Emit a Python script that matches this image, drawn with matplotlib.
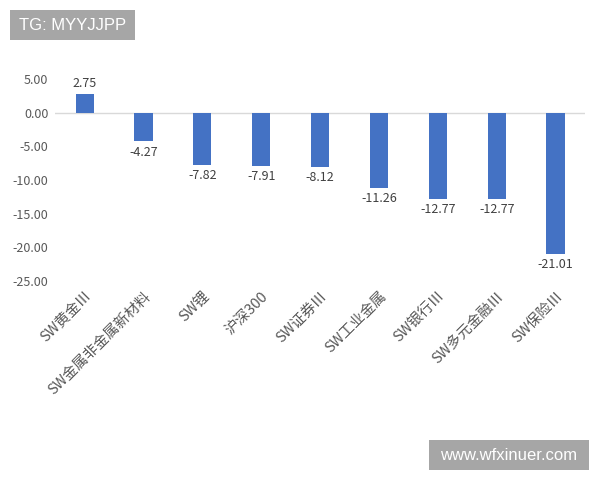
import matplotlib
matplotlib.use("Agg")
import matplotlib.pyplot as plt
from matplotlib.patches import Rectangle

plt.rcParams['font.family'] = ['Noto Sans CJK SC', 'DejaVu Sans']

categories = ["SW黄金Ⅲ", "SW金属非金属新材料", "SW锂", "沪深300", "SW证券Ⅲ",
              "SW工业金属", "SW银行Ⅲ", "SW多元金融Ⅲ", "SW保险Ⅲ"]
values = [2.75, -4.27, -7.82, -7.91, -8.12, -11.26, -12.77, -12.77, -21.01]
yticks = [5, 0, -5, -10, -15, -20, -25]

W, H = 600, 480
fig = plt.figure(figsize=(6, 4.8), dpi=100)
ax = fig.add_axes([0.092, 0.415, 0.883, 0.42])
x = range(len(categories))
ax.bar(x, values, width=0.31, color="#4472C4", zorder=3)
ax.set_xlim(-0.5, len(categories) - 0.5)
ax.set_ylim(-25, 5)
ax.set_yticks(yticks)
ax.set_yticklabels([f"{v:.2f}" for v in yticks], fontsize=9, color="#595959")
ax.set_xticks(list(x))
ax.set_xticklabels(categories, rotation=45, ha="right", rotation_mode="anchor",
                   fontsize=10.5, color="#595959")
for s in ax.spines.values():
    s.set_visible(False)
ax.tick_params(length=0)
ax.tick_params(axis='y', pad=5)
ax.tick_params(axis='x', pad=6)
ax.axhline(0, color="#d9d9d9", lw=1, zorder=2)
for i, v in enumerate(values):
    if v >= 0:
        ax.text(i, v + 0.6, f"{v:.2f}", ha="center", va="bottom", fontsize=9, color="#404040")
    else:
        ax.text(i, v - 0.6, f"{v:.2f}", ha="center", va="top", fontsize=9, color="#404040")

def badge(x0, y0, x1, y1, text):
    fig.add_artist(Rectangle((x0 / W, 1 - y1 / H), (x1 - x0) / W, (y1 - y0) / H,
                             transform=fig.transFigure, fc="#a6a6a6", ec="none"))
    fig.text((x0 + x1) / 2 / W, 1 - (y0 + y1) / 2 / H, text, fontsize=12, color="white",
             ha="center", va="center", family="Liberation Sans")

badge(10, 10, 135, 40, "TG: MYYJJPP")
badge(429, 440, 589, 470, "www.wfxinuer.com")

fig.savefig("out.png", dpi=100)
